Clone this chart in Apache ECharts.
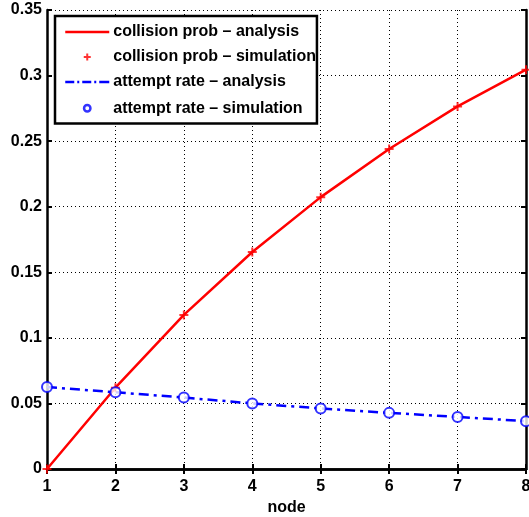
<!DOCTYPE html>
<html><head><meta charset="utf-8">
<script src="https://cdn.jsdelivr.net/npm/echarts@6/dist/echarts.min.js"></script>
<style>html,body{margin:0;padding:0;background:#fff}#c{width:529px;height:517px}</style>
</head><body><div id="c"></div>
<script>
var nodes = [1, 2, 3, 4, 5, 6, 7, 8];
var collisionAnalysis = [0, 0.062, 0.1175, 0.1655, 0.2073, 0.2440, 0.2765, 0.3045];
var collisionSim = [0, 0.062, 0.1175, 0.1655, 0.2073, 0.2440, 0.2765, 0.3045];
var attemptAnalysis = [0.0625, 0.0585, 0.0545, 0.0500, 0.0462, 0.0428, 0.0397, 0.0365];
var attemptSim = [0.0625, 0.0585, 0.0545, 0.0500, 0.0462, 0.0428, 0.0397, 0.0365];
var names = ['collision prob \u2013 analysis', 'collision prob \u2013 simulation', 'attempt rate \u2013 analysis', 'attempt rate \u2013 simulation'];

function pairs(v){ return nodes.map(function(n,i){return [n, v[i]];}); }
var font = 'Liberation Sans, Arial, sans-serif';
var chart = echarts.init(document.getElementById('c'), null, {renderer:'canvas'});
var plus = 'path://M-1,-4.5H1V-1H4.5V1H1V4.5H-1V1H-4.5V-1H-1Z';
// legend icons: anchored to a 44x16 box so they keep their real size
var anchor = 'M-22,-8M22,8';
var iconSolid = 'path://' + anchor + 'M-22,-1.25H22V1.25H-22Z';
var iconDashDot = 'path://' + anchor + 'M-22,-1.25H-13V1.25H-22Z M-10,-1.25H-8V1.25H-10Z M-5,-1.25H4V1.25H-5Z M7,-1.25H9V1.25H7Z M12,-1.25H22V1.25H12Z';
var iconPlus = 'path://' + anchor + 'M-1,-3.5H1V-1H3.5V1H1V3.5H-1V1H-3.5V-1H-1Z';
var iconRing = 'path://' + anchor + 'M3.2,0A3.2,3.2 0 1,1 -3.2,0A3.2,3.2 0 1,1 3.2,0Z';
var axisCommon = {
  type:'value', min:1, max:8, interval:1,
  axisLine:{show:true, lineStyle:{color:'#000', width:2.5}},
  axisTick:{show:true, inside:true, length:5, lineStyle:{color:'#000', width:2}},
};
chart.setOption({
  animation:false,
  grid:{left:47, right:3, top:10, bottom:48, containLabel:false, outerBoundsMode:'none'},
  xAxis:[
    Object.assign({}, axisCommon, {position:'bottom',
      name:'node', nameLocation:'middle', nameGap:31,
      nameTextStyle:{fontFamily:font, fontWeight:'bold', fontSize:16, color:'#000'},
      axisLabel:{fontFamily:font, fontWeight:'bold', fontSize:16, color:'#000', margin:10},
      splitLine:{show:true, lineStyle:{color:'#000', type:[1,3], width:1}}}),
    Object.assign({}, axisCommon, {position:'top', axisLabel:{show:false}, splitLine:{show:false}})
  ],
  yAxis:[
    {type:'value', min:0, max:0.35, interval:0.05, position:'left',
      axisLine:{show:true, lineStyle:{color:'#000', width:2.5}},
      axisTick:{show:true, inside:true, length:5, lineStyle:{color:'#000', width:2}},
      axisLabel:{fontFamily:font, fontWeight:'bold', fontSize:16, color:'#000', margin:5,
        formatter:function(v){return String(+v.toFixed(2));}},
      splitLine:{show:true, lineStyle:{color:'#000', type:[1,3], width:1}}},
    {type:'value', min:0, max:0.35, interval:0.05, position:'right',
      axisLine:{show:true, lineStyle:{color:'#000', width:2.5}},
      axisTick:{show:true, inside:true, length:5, lineStyle:{color:'#000', width:2}},
      axisLabel:{show:false}, splitLine:{show:false}}
  ],
  legend:{
    orient:'vertical', left:55, top:16,
    data:[
      {name:names[0], icon:iconSolid, itemStyle:{color:'#ff0000', borderWidth:0}},
      {name:names[1], icon:iconPlus, itemStyle:{color:'#ff0000', borderWidth:0}},
      {name:names[2], icon:iconDashDot, itemStyle:{color:'#0000ff', borderWidth:0}},
      {name:names[3], icon:iconRing, itemStyle:{color:'#ffffff', borderColor:'#0000ff', borderWidth:2.5}}
    ],
    backgroundColor:'#fff', borderColor:'#000', borderWidth:2.5,
    padding:[8,1,6,9], itemGap:9, itemWidth:44, itemHeight:16,
    textStyle:{fontFamily:font, fontWeight:'bold', fontSize:16, color:'#000', padding:[0,0,0,-1]}
  },
  series:[
    {name:names[0], type:'line', data:pairs(collisionAnalysis), showSymbol:false, symbol:'none',
      lineStyle:{color:'#ff0000', width:2.5}, itemStyle:{color:'#ff0000'}, clip:false, z:3},
    {name:names[1], type:'scatter', data:pairs(collisionSim), symbol:plus, symbolSize:9,
      itemStyle:{color:'#ff0000'}, clip:false, z:4},
    {name:names[2], type:'line', data:pairs(attemptAnalysis), showSymbol:false, symbol:'none',
      lineStyle:{color:'#0000ff', width:2.5, type:[10,5,3,5]}, itemStyle:{color:'#0000ff'}, clip:false, z:3},
    {name:names[3], type:'scatter', data:pairs(attemptSim), symbol:'emptyCircle', symbolSize:10,
      itemStyle:{color:'#0000ff', borderColor:'#0000ff', borderWidth:3}, clip:false, z:4}
  ]
});
</script></body></html>
